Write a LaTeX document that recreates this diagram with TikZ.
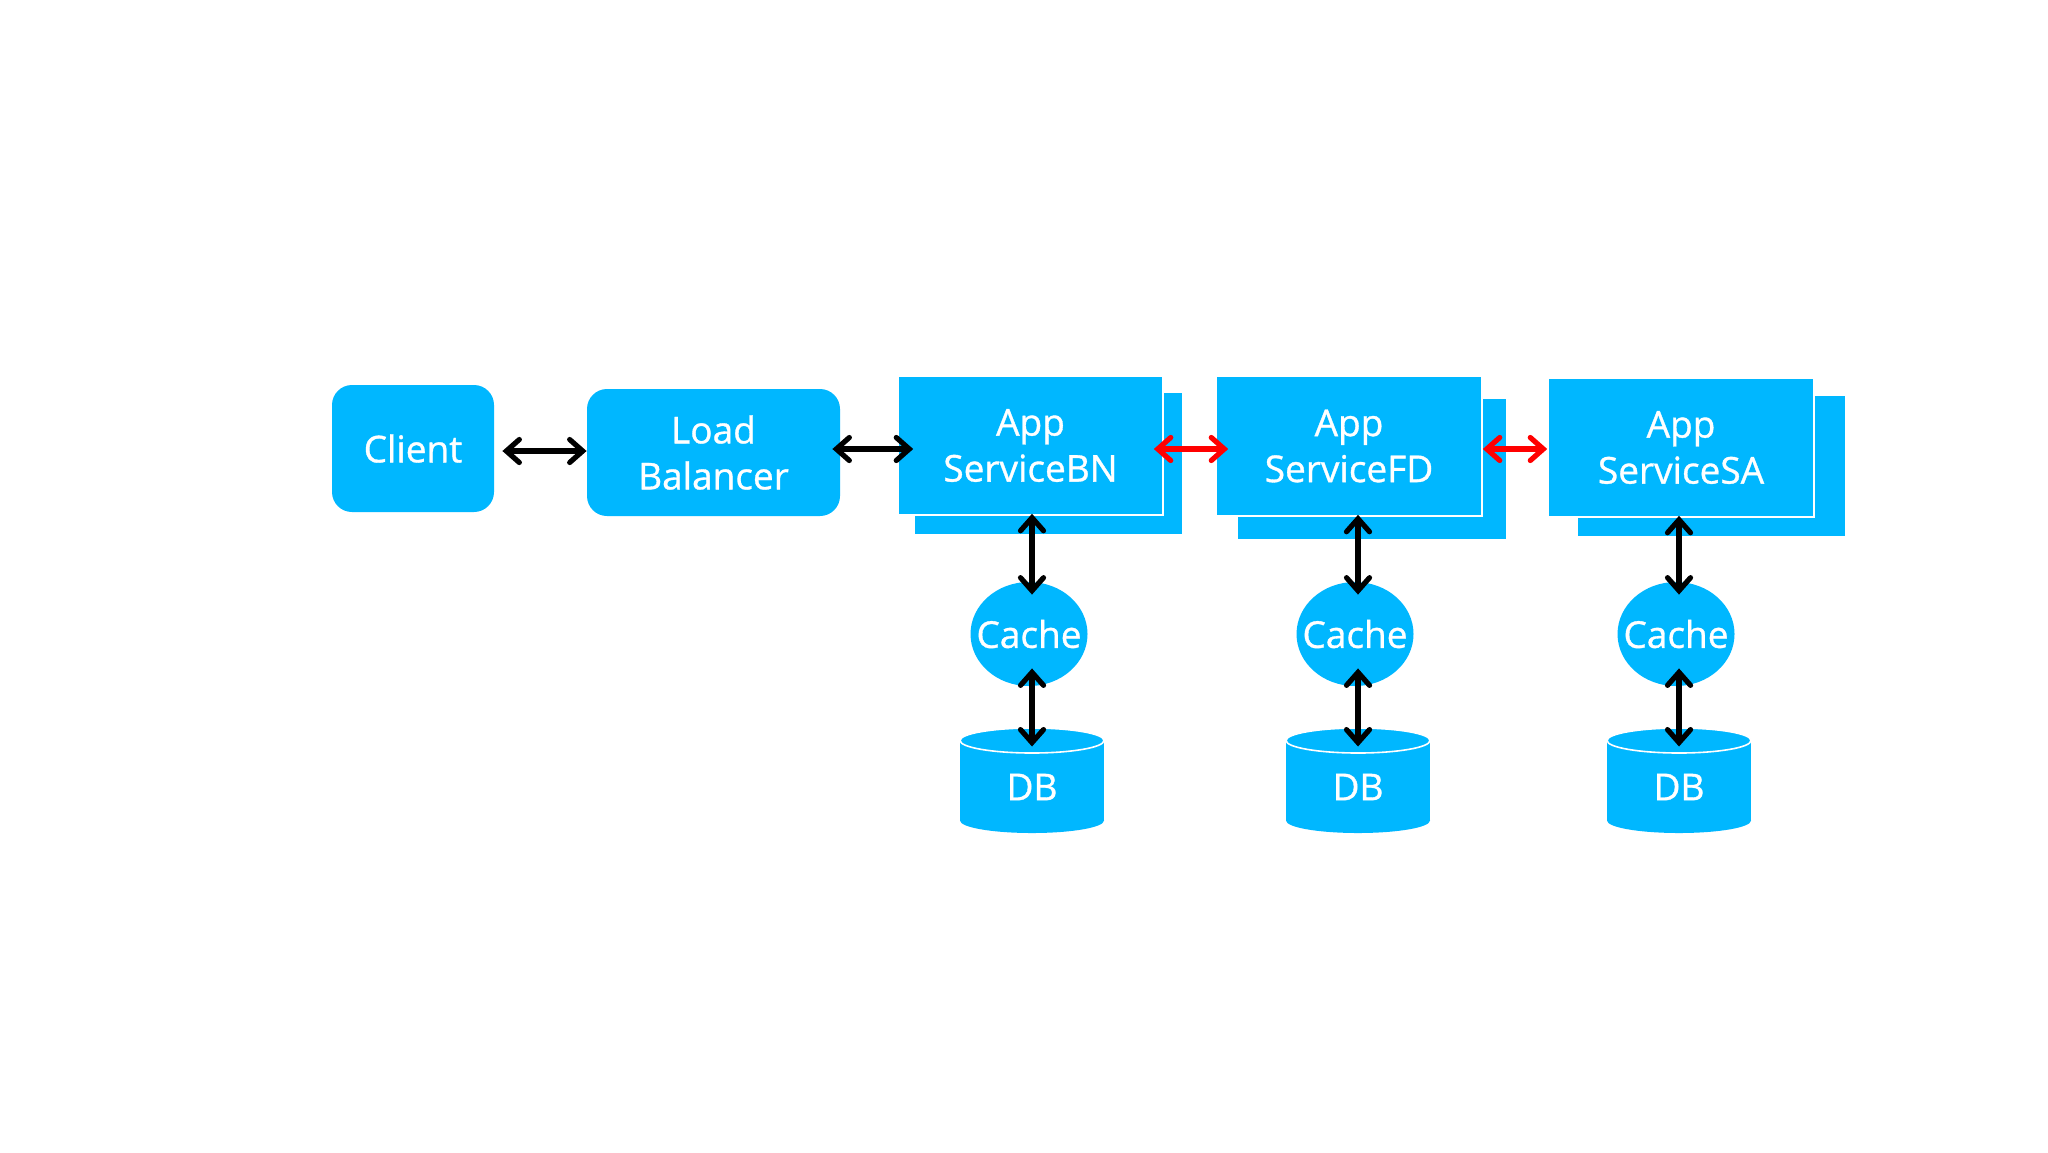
\documentclass[tikz,border=0pt]{standalone}
\usepackage{fontspec}
\setmainfont{Open Sans}
\newfontfamily\lblfont[FakeBold=0.9]{Open Sans}
\usetikzlibrary{arrows.meta,shapes.geometric}
\definecolor{boxblue}{RGB}{0,183,255}
\begin{document}
\begin{tikzpicture}[x=0.5pt,y=-0.5pt,
  txt/.style={text=white, inner sep=0pt, align=center, font=\lblfont\fontsize{18.5}{23}\selectfont},
  rbox/.style={txt, fill=boxblue, rounded corners=10pt, minimum height=63.5pt},
  backbox/.style={fill=boxblue, inner sep=0pt},
  appbox/.style={txt, fill=boxblue, draw=white, line width=0.8pt},
  cachenode/.style={ellipse, fill=boxblue, inner sep=0pt, minimum width=58.5pt, minimum height=52pt},
  dbend/.style={ellipse, fill=boxblue, inner sep=0pt, minimum width=72pt, minimum height=12.5pt},
  arr/.style={line width=2.6pt, line cap=round,
    arrows={Straight Barb[length=6.5pt,width=11.5pt,line cap=round]-Straight Barb[length=6.5pt,width=11.5pt,line cap=round]}},
  arrblack/.style={arr, draw=black},
  arrred/.style={arr, draw=red}
]
\useasboundingbox (0,0) rectangle (2048,1152);
\fill[white] (0,0) rectangle (2048,1152);

% top row
\node[rbox, minimum width=81pt] (client) at (413,448.5) {Client};
\node[rbox, minimum width=126.5pt] (lb) at (713.5,452.5) {Load\\Balancer};

\node[backbox, minimum width=133.5pt, minimum height=70.5pt] (bnback) at (1048.5,463.5) {};
\node[appbox, minimum width=132.5pt, minimum height=69.5pt] (appBN) at (1030.5,445.5) {App\\ServiceBN};

\node[backbox, minimum width=134pt, minimum height=70pt] (fdback) at (1372,469) {};
\node[appbox, minimum width=133pt, minimum height=70pt] (appFD) at (1349,446) {App\\ServiceFD};

\node[backbox, minimum width=133.5pt, minimum height=70pt] (saback) at (1711.5,466) {};
\node[appbox, minimum width=133pt, minimum height=69.5pt] (appSA) at (1681,447.5) {App\\ServiceSA};

% caches
\foreach \x/\n in {1029/BN,1355/FD,1676/SA}{
  \node[cachenode] (cache\n) at (\x,634) {};
  \node[txt] (cachetext\n) at (cache\n) {Cache};
}

% databases
\foreach \x/\n in {1032/BN,1358/FD,1679/SA}{
  \node[dbend] (dbbot\n) at (\x,820.5) {};
  \fill[boxblue] (\x-72,740.5) rectangle (\x+72,820.5);
  \node[dbend, draw=white, line width=0.8pt] (dbtop\n) at (\x,740.5) {};
  \node[txt] (db\n) at (\x,787) {DB};
}

% rows for horizontal connectors
\coordinate (rowA) at (0,451);
\coordinate (rowB) at (0,449);

\draw[arrblack, shorten <=4pt] (client.east |- rowA) -- (lb.west |- rowA);
\draw[arrblack, shorten <=-4pt, shorten >=-8pt] (lb.east |- rowB) -- (appBN.west |- rowB);
\draw[arrred, shorten <=-5pt, shorten >=-6.5pt] (appBN.east |- rowB) -- (appFD.west |- rowB);
\draw[arrred] (appFD.east |- rowB) -- (appSA.west |- rowB);

% vertical connectors
\foreach \n in {BN,FD,SA}{
  \draw[arrblack, shorten <=-1pt, shorten >=-6.5pt] (app\n.south -| db\n) -- (cache\n.north -| db\n);
  \draw[arrblack, shorten <=-9pt, shorten >=-3pt] (cache\n.south -| db\n) -- (dbtop\n.center -| db\n);
}
\end{tikzpicture}
\end{document}
